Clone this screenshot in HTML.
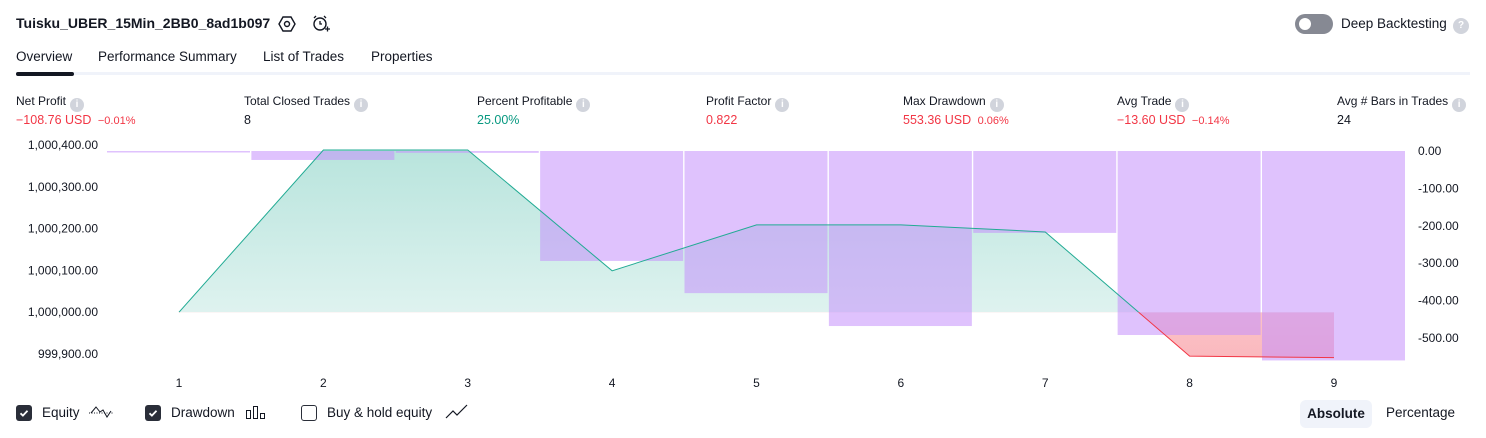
<!DOCTYPE html>
<html><head><meta charset="utf-8"><style>
body{margin:0;width:1486px;height:438px;background:#fff;font-family:"Liberation Sans",sans-serif;color:#131722;position:relative;overflow:hidden}
.a{position:absolute;white-space:nowrap}
.lbl{font-size:12px;color:#131722}
.val{font-size:12.5px}
.info{display:inline-block;width:14px;height:14px;border-radius:50%;background:#d1d4dc;color:#fff;font-size:10px;text-align:center;line-height:14px;font-weight:bold;vertical-align:-2px;margin-left:4px}
.red{color:#f23645}.grn{color:#089981}
.cb{position:absolute;width:16px;height:16px;border-radius:3px;top:405px}
.tab{font-size:13.5px;top:49px}
</style></head><body>
<div class="a" style="left:16px;top:15px;font-size:14px;font-weight:bold">Tuisku_UBER_15Min_2BB0_8ad1b097</div>
<svg class="a" style="left:278px;top:15px" width="18" height="18"><polygon points="5,2 13,2 17,9 13,16 5,16 1,9" fill="none" stroke="#131722" stroke-width="1.4"/><circle cx="9" cy="9" r="2.5" fill="none" stroke="#131722" stroke-width="1.4"/></svg>
<svg class="a" style="left:311px;top:14px" width="20" height="20"><circle cx="9" cy="10" r="6" fill="none" stroke="#131722" stroke-width="1.4"/><path d="M9 7v3h2M3 4l2-2M15 4l-2-2M14 15h5M16.5 12.5v5" stroke="#131722" stroke-width="1.3" fill="none"/></svg>
<div class="a" style="left:1295px;top:14px;width:38px;height:20px;border-radius:10px;background:#868993"><div style="position:absolute;left:4px;top:4px;width:12px;height:12px;border-radius:50%;background:#fff"></div></div>
<div class="a" style="left:1341px;top:16px;font-size:13.5px">Deep Backtesting</div>
<div class="a info" style="left:1453px;top:18px;width:16px;height:16px;line-height:16px;margin:0">?</div>
<div class="a tab" style="left:16px">Overview</div>
<div class="a tab" style="left:98px">Performance Summary</div>
<div class="a tab" style="left:263px">List of Trades</div>
<div class="a tab" style="left:371px">Properties</div>
<div class="a" style="left:16px;top:72px;width:1454px;height:3px;background:#f0f3fa"></div>
<div class="a" style="left:16px;top:72px;width:58px;height:4px;border-radius:2px;background:#131722"></div>

<div class="a lbl" style="left:16px;top:94px">Net Profit<span class="info">i</span></div>
<div class="a val red" style="left:16px;top:113px">−108.76 USD <span style="font-size:11px;margin-left:3px">−0.01%</span></div>
<div class="a lbl" style="left:244px;top:94px">Total Closed Trades<span class="info">i</span></div>
<div class="a val" style="left:244px;top:113px">8</div>
<div class="a lbl" style="left:477px;top:94px">Percent Profitable<span class="info">i</span></div>
<div class="a val grn" style="left:477px;top:113px">25.00%</div>
<div class="a lbl" style="left:706px;top:94px">Profit Factor<span class="info">i</span></div>
<div class="a val red" style="left:706px;top:113px">0.822</div>
<div class="a lbl" style="left:903px;top:94px">Max Drawdown<span class="info">i</span></div>
<div class="a val red" style="left:903px;top:113px">553.36 USD <span style="font-size:11px;margin-left:3px">0.06%</span></div>
<div class="a lbl" style="left:1117px;top:94px">Avg Trade<span class="info">i</span></div>
<div class="a val red" style="left:1117px;top:113px">−13.60 USD <span style="font-size:11px;margin-left:3px">−0.14%</span></div>
<div class="a lbl" style="left:1337px;top:94px">Avg # Bars in Trades<span class="info">i</span></div>
<div class="a val" style="left:1337px;top:113px">24</div>

<svg id="chart" class="a" style="left:0;top:0" width="1486" height="438">
<defs>
<linearGradient id="gg" x1="0" y1="0" x2="0" y2="1"><stop offset="0" stop-color="#22ab94" stop-opacity="0.32"/><stop offset="1" stop-color="#22ab94" stop-opacity="0.1"/></linearGradient>
<linearGradient id="rg" x1="0" y1="0" x2="0" y2="1"><stop offset="0" stop-color="#f23645" stop-opacity="0.12"/><stop offset="1" stop-color="#f23645" stop-opacity="0.35"/></linearGradient>
</defs>
</svg>

<div class="cb" style="left:16px;background:#2a2e39"><svg width="16" height="16"><path d="M4.5 8.3l2.4 2.3 4.6-4.8" stroke="#fff" stroke-width="1.8" fill="none"/></svg></div>
<div class="a" style="left:42px;top:405px;font-size:13.5px">Equity</div>
<svg class="a" style="left:88px;top:403px" width="26" height="16"><path d="M1 10h24" stroke="#131722" stroke-dasharray="1 1.5"/><path d="M3 10l5-6 4 5 3-2 4 7 4-6" stroke="#131722" fill="none"/></svg>
<div class="cb" style="left:145px;background:#2a2e39"><svg width="16" height="16"><path d="M4.5 8.3l2.4 2.3 4.6-4.8" stroke="#fff" stroke-width="1.8" fill="none"/></svg></div>
<div class="a" style="left:171px;top:405px;font-size:13.5px">Drawdown</div>
<svg class="a" style="left:245px;top:404px" width="22" height="16"><rect x="1.5" y="6.5" width="4" height="8" fill="none" stroke="#131722"/><rect x="8.5" y="2.5" width="4" height="12" fill="none" stroke="#131722"/><rect x="15.5" y="9.5" width="4" height="5" fill="none" stroke="#131722"/></svg>
<div class="cb" style="left:301px;border:1.2px solid #2a2e39;box-sizing:border-box;background:#fff"></div>
<div class="a" style="left:327px;top:405px;font-size:13.5px">Buy &amp; hold equity</div>
<svg class="a" style="left:445px;top:404px" width="24" height="16"><path d="M1 14l7-7 4 4 10-10" stroke="#131722" fill="none" stroke-width="1.2"/></svg>
<div class="a" style="left:1300px;top:400px;width:72px;height:28px;border-radius:6px;background:#f0f3fa;font-size:13.5px;font-weight:bold;text-align:center;line-height:28px">Absolute</div>
<div class="a" style="left:1386px;top:405px;font-size:13.5px">Percentage</div>

<script>
const categories=[1,2,3,4,5,6,7,8,9];
const equity=[1000000,1000388,1000388,1000099,1000209,1000209,1000192,999895,999891.24];
const drawdown=[-4,-24,-5,-294,-380,-468,-219,-492,-560];
const leftTicks=[1000400,1000300,1000200,1000100,1000000,999900];
const rightTicks=[0,-100,-200,-300,-400,-500];
const baseEquity=1000000;

const NS='http://www.w3.org/2000/svg';
const svg=document.getElementById('chart');
const xOf=i=>179+i*144.375;
const yL=v=>145+(1000400-v)*0.418;
const yR=v=>151-v*0.374;
function mk(t,at,parent){const e=document.createElementNS(NS,t);for(const k in at)e.setAttribute(k,at[k]);(parent||svg).appendChild(e);return e;}
const defs=svg.querySelector('defs');
const by=yL(baseEquity);
const cA=mk('clipPath',{id:'above'},defs);mk('rect',{x:0,y:0,width:1486,height:by},cA);
const cB=mk('clipPath',{id:'below'},defs);mk('rect',{x:0,y:by,width:1486,height:438-by},cB);

let pts=equity.map((v,i)=>xOf(i)+','+yL(v)).join(' ');
let poly=xOf(0)+','+by+' '+pts+' '+xOf(equity.length-1)+','+by;
const ga=mk('polygon',{points:poly,fill:'url(#gg)','clip-path':'url(#above)'});


const ra=mk('polygon',{points:poly,fill:'url(#rg)','clip-path':'url(#below)'});



drawdown.forEach((v,i)=>{
  const x=xOf(i)-72, y0=yR(0), y1=yR(v);
  const r=mk('rect',{x:x,y:y0,width:143,height:Math.max(1,y1-y0),fill:'#c48ffb','fill-opacity':0.55});
  
  
});

const lg=mk('polyline',{points:pts,fill:'none',stroke:'#22ab94','stroke-width':1,'clip-path':'url(#above)'});


const lr=mk('polyline',{points:pts,fill:'none',stroke:'#f23645','stroke-width':1,'clip-path':'url(#below)'});



leftTicks.forEach(v=>{
  const t=mk('text',{x:98,y:yL(v)+4,'text-anchor':'end','font-size':12,fill:'#131722','font-family':'Liberation Sans, sans-serif'});
  t.textContent=v.toLocaleString('en-US',{minimumFractionDigits:2,maximumFractionDigits:2});
  
  
});
rightTicks.forEach(v=>{
  const t=mk('text',{x:1418,y:yR(v)+4,'font-size':12,fill:'#131722','font-family':'Liberation Sans, sans-serif'});
  t.textContent=v.toFixed(2);
  
  
});
categories.forEach((c,i)=>{
  const t=mk('text',{x:xOf(i),y:387,'text-anchor':'middle','font-size':12,fill:'#131722','font-family':'Liberation Sans, sans-serif'});
  t.textContent=c;
  
  
});
</script>
</body></html>
